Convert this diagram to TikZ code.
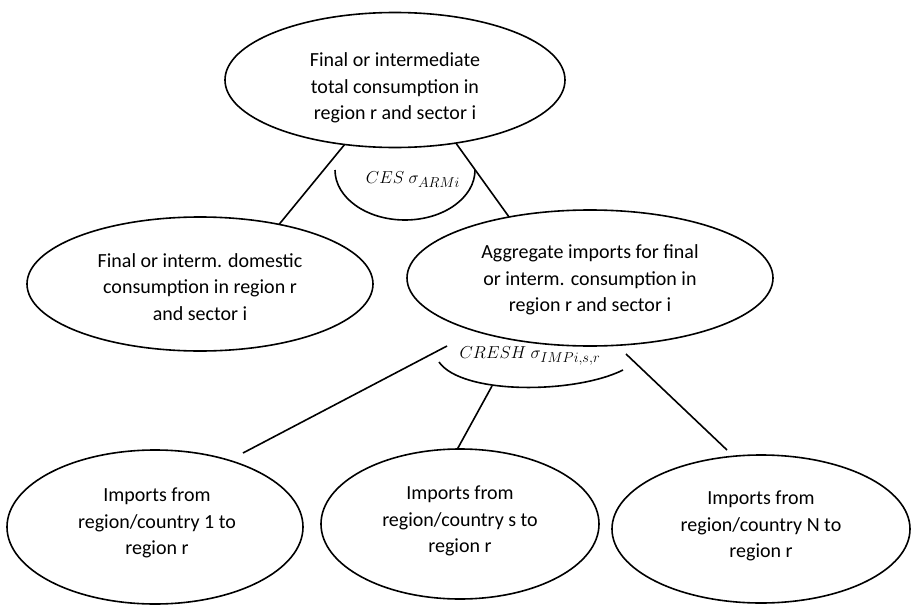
\documentclass[tikz,border=0pt]{standalone}
\usepackage{fontspec}
\setmainfont{Carlito}
\usetikzlibrary{shapes.geometric}
\begin{document}
\begin{tikzpicture}[x=1pt,y=-1pt,
  ell/.style={ellipse,draw,line width=1.6pt,inner sep=0pt,outer sep=0pt},
  txt/.style={align=center,font=\fontsize{20}{26.7}\selectfont,inner sep=0pt},
  lbl/.style={font=\fontsize{19}{21}\selectfont,inner sep=0pt},
  conn/.style={line width=1.6pt}]
\useasboundingbox (0,0) rectangle (911,605);
% ellipses
\node[ell,minimum width=340pt,minimum height=135pt] (top) at (395,80) {};
\node[txt] (toptxt) at (395,88) {Final or intermediate\\total consumption in\\region r and sector i};
\node[ell,minimum width=346pt,minimum height=134pt] (dom) at (200,284) {};
\node[txt] (domtxt) at (200,287) {Final or interm. domestic\\consumption in region r\\and sector i};
\node[ell,minimum width=366pt,minimum height=136pt] (agg) at (590,278) {};
\node[txt] (aggtxt) at (590,280) {Aggregate imports for final\\or interm. consumption in\\region r and sector i};
\node[ell,minimum width=296pt,minimum height=154pt] (imp1) at (155,527) {};
\node[txt] (imp1txt) at (157,523) {Imports from\\region/country 1 to\\region r};
\node[ell,minimum width=278pt,minimum height=150pt] (imps) at (460,524) {};
\node[txt] (impstxt) at (460,521) {Imports from\\region/country s to\\region r};
\node[ell,minimum width=298pt,minimum height=148pt] (impN) at (761,529) {};
\node[txt] (impNtxt) at (761,526) {Imports from\\region/country N to\\region r};
% upper nest
\draw[conn] (top.232) -- (dom.37);
\draw[conn] (top.314) -- (agg.143);
\draw[conn] (335,170) arc[start angle=180,end angle=0,x radius=70,y radius=50];
\node[lbl] (ces) at (413,180) {$CES\ \sigma_{ARMi}$};
% lower nest
\coordinate (a1) at (447,346);
\coordinate (a2) at (243,453);
\coordinate (m1) at (492,386);
\coordinate (b1) at (626,354);
\coordinate (b2) at (727,450);
\draw[conn] (439,362) .. controls (462,395) and (575,394) .. (623,370);
\node[lbl] (cresh) at (530,356) {$CRESH\ \sigma_{IMPi,s,r}$};
\draw[conn] (a1) -- (a2);
\draw[conn] (m1) -- (imps.92);
\draw[conn] (b1) -- (b2);
\end{tikzpicture}
\end{document}
